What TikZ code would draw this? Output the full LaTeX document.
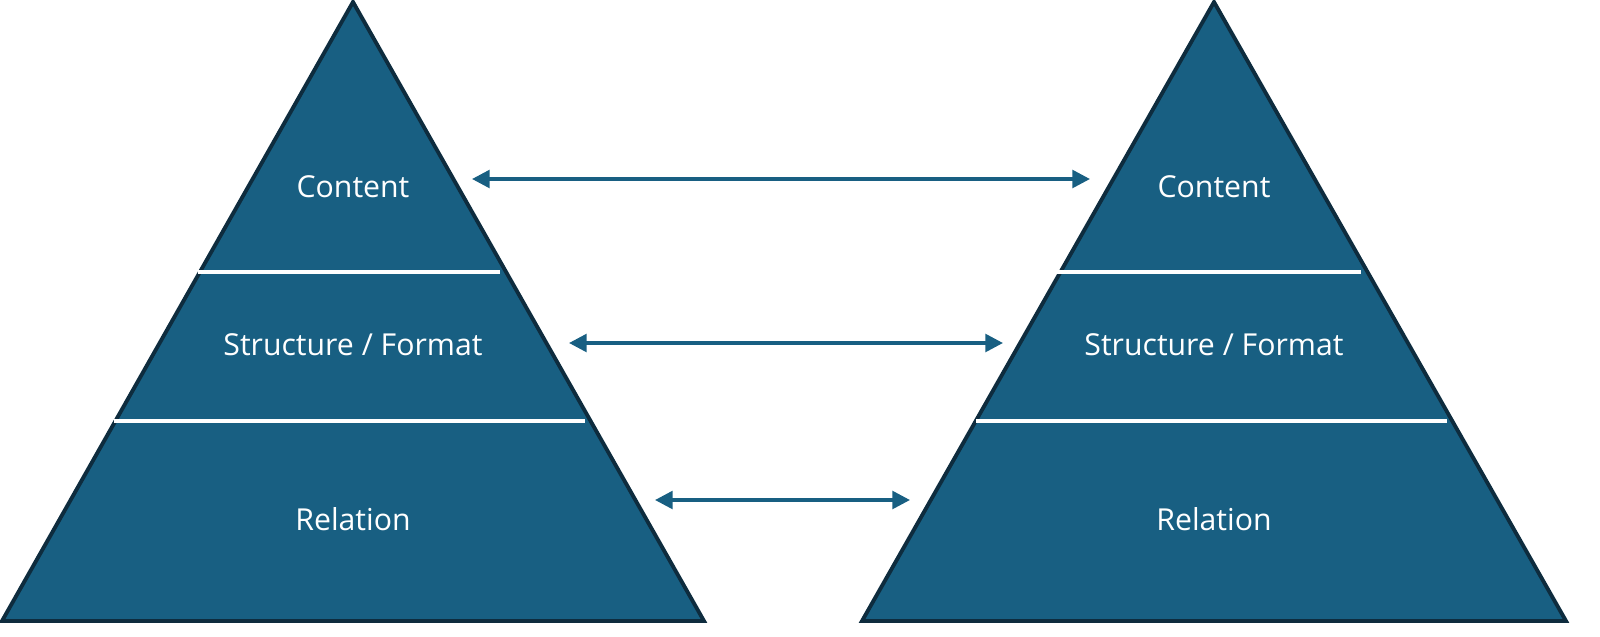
\documentclass[tikz,border=0pt]{standalone}
\usepackage{fontspec}
\setmainfont{Open Sans}
\usetikzlibrary{arrows.meta}
\definecolor{pyr}{HTML}{185F82}
\definecolor{edge}{HTML}{0E2C3E}
\tikzset{
 tri/.style={fill=pyr,draw=edge,line width=1.1pt,line join=miter},
 sep/.style={draw=white,line width=1pt},
 lbl/.style={text=white,font=\fontsize{8.6pt}{10pt}\selectfont,inner sep=0},
 link/.style={draw=pyr,line width=1pt,{Triangle[width=5pt,length=5pt]}-{Triangle[width=5pt,length=5pt]}}
}
\begin{document}
\begin{tikzpicture}[x=0.01cm,y=-0.01cm]
\useasboundingbox (0,0) rectangle (1600,636);
\draw[tri] (353,2) -- (704,621) -- (2,621) -- cycle;
\draw[tri] (1214,2) -- (1566,621) -- (862,621) -- cycle;
\draw[sep] (198,272) -- (500,272);
\draw[sep] (114,421) -- (585,421);
\draw[sep] (1057,272) -- (1361,272);
\draw[sep] (976,421) -- (1447,421);
\node[lbl] (lc) at (353,187) {Content};
\node[lbl] (ls) at (353,345) {Structure / Format};
\node[lbl] (lr) at (353,519) {Relation};
\node[lbl] (rc) at (1214,187) {Content};
\node[lbl] (rs) at (1214,345) {Structure / Format};
\node[lbl] (rr) at (1214,519) {Relation};
\coordinate (a1) at (472,179); \coordinate (b1) at (1090,179);
\coordinate (a2) at (569,343); \coordinate (b2) at (1003,343);
\coordinate (a3) at (655,500); \coordinate (b3) at (910,500);
\draw[link] (a1) -- (b1);
\draw[link] (a2) -- (b2);
\draw[link] (a3) -- (b3);
\end{tikzpicture}
\end{document}
